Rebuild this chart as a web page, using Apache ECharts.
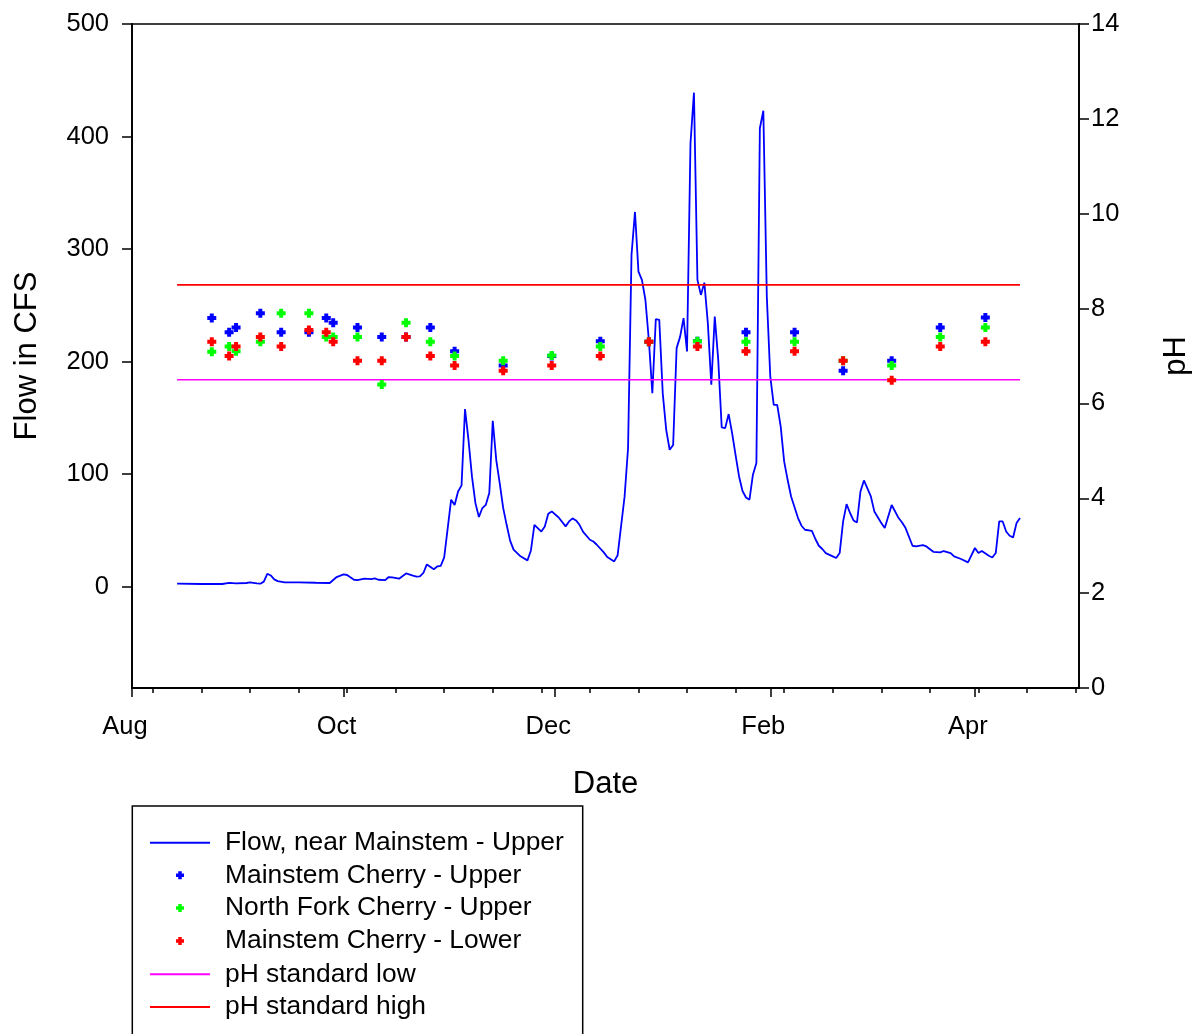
<!DOCTYPE html>
<html>
<head>
<meta charset="utf-8">
<script src="https://cdn.jsdelivr.net/npm/echarts@6/dist/echarts.min.js"></script>
<style>
html,body{margin:0;padding:0;background:#fff;}
#chart{width:1197px;height:1034px;}
</style>
</head>
<body>
<div id="chart"></div>
<script>
// ---------------- DATA ----------------
const xRange = ['2005-08-01', '2006-05-01'];
const xLabelDates = ['2005-08-01', '2005-10-01', '2005-12-01', '2006-02-01', '2006-04-01'];
const xLabels = ['Aug', 'Oct', 'Dec', 'Feb', 'Apr'];
const minorTickDates = ['2005-08-07','2005-08-21','2005-09-04','2005-09-18','2005-10-02','2005-10-16','2005-10-30',
  '2005-11-13','2005-11-27','2005-12-11','2005-12-25','2006-01-08','2006-01-22','2006-02-05','2006-02-19',
  '2006-03-05','2006-03-19','2006-04-02','2006-04-16','2006-04-30'];
const flowTicks = [0, 100, 200, 300, 400, 500];
const flowRange = [-90, 500];
const phRange = [0, 14];
const phInterval = 2;

const flowDates = [
  '2005-08-14','2005-08-21','2005-08-27','2005-08-29','2005-08-31','2005-09-03','2005-09-04','2005-09-06','2005-09-07','2005-09-08',
  '2005-09-09','2005-09-10','2005-09-11','2005-09-12','2005-09-14','2005-09-18','2005-09-23','2005-09-27','2005-09-29','2005-10-01',
  '2005-10-02','2005-10-04','2005-10-05','2005-10-07','2005-10-09','2005-10-10','2005-10-11','2005-10-13','2005-10-14','2005-10-15',
  '2005-10-17','2005-10-19','2005-10-21','2005-10-22','2005-10-23','2005-10-24','2005-10-25','2005-10-27','2005-10-28','2005-10-29',
  '2005-10-30','2005-11-01','2005-11-02','2005-11-03','2005-11-04','2005-11-05','2005-11-06','2005-11-07','2005-11-08','2005-11-09',
  '2005-11-10','2005-11-11','2005-11-12','2005-11-13','2005-11-14','2005-11-15','2005-11-16','2005-11-17','2005-11-18','2005-11-19',
  '2005-11-21','2005-11-23','2005-11-24','2005-11-25','2005-11-27','2005-11-28','2005-11-29','2005-11-30','2005-12-02','2005-12-04',
  '2005-12-05','2005-12-06','2005-12-07','2005-12-08','2005-12-09','2005-12-11','2005-12-12','2005-12-13','2005-12-15','2005-12-16',
  '2005-12-18','2005-12-19','2005-12-21','2005-12-22','2005-12-23','2005-12-24','2005-12-25','2005-12-26','2005-12-27','2005-12-28',
  '2005-12-29','2005-12-30','2005-12-31','2006-01-01','2006-01-02','2006-01-03','2006-01-04','2006-01-05','2006-01-06','2006-01-07',
  '2006-01-08','2006-01-09','2006-01-10','2006-01-11','2006-01-12','2006-01-13','2006-01-14','2006-01-15','2006-01-16','2006-01-17',
  '2006-01-18','2006-01-19','2006-01-20','2006-01-21','2006-01-22','2006-01-23','2006-01-24','2006-01-25','2006-01-26','2006-01-27',
  '2006-01-28','2006-01-29','2006-01-30','2006-01-31','2006-02-01','2006-02-02','2006-02-03','2006-02-04','2006-02-05','2006-02-06',
  '2006-02-07','2006-02-09','2006-02-10','2006-02-11','2006-02-13','2006-02-14','2006-02-15','2006-02-16','2006-02-17','2006-02-19',
  '2006-02-20','2006-02-21','2006-02-22','2006-02-23','2006-02-24','2006-02-25','2006-02-26','2006-02-27','2006-02-28','2006-03-02',
  '2006-03-03','2006-03-05','2006-03-06','2006-03-08','2006-03-10','2006-03-11','2006-03-12','2006-03-14','2006-03-15','2006-03-17',
  '2006-03-18','2006-03-20','2006-03-22','2006-03-23','2006-03-25','2006-03-26','2006-03-28','2006-03-30','2006-04-01','2006-04-02',
  '2006-04-03','2006-04-05','2006-04-06','2006-04-07','2006-04-08','2006-04-09','2006-04-10','2006-04-11','2006-04-12','2006-04-13',
  '2006-04-14'
];
const flowValues = [
  2.7, 2.4, 2.4, 3.5, 3.0, 3.3, 3.8, 2.9, 2.7, 4.5,
  11.5, 10, 6.5, 5, 3.8, 3.8, 3.5, 3.3, 8.6, 10.9,
  10.4, 6.2, 5.9, 7.1, 6.8, 7.4, 6.2, 5.9, 8.6, 8.3,
  7.1, 11.8, 9.8, 8.9, 9.1, 12.2, 19.8, 15.5, 18, 18.6,
  26, 77.3, 72.6, 84.6, 90, 157.8, 130.5, 98, 74.3, 61.9,
  69.9, 72.8, 83.2, 147.4, 112.8, 92, 70, 55, 41, 33,
  27, 23.4, 32.2, 55, 49, 53.6, 64.8, 66.9, 61.5, 53.6,
  58, 60.7, 58.9, 55, 49, 41.7, 40.2, 37.3, 30.5, 26.4,
  22.5, 28, 80, 123, 295, 333, 280, 272.6, 255, 219,
  172, 237.7, 237.1, 172, 139.4, 121.7, 126, 212, 222, 238.6,
  209, 394, 439, 272.6, 259.3, 270.2, 234.2, 179.4, 240, 201.6,
  141.5, 140.9, 153.4, 136.5, 117, 98, 85, 79.3, 77.3, 99.5,
  109.9, 407.4, 423, 258, 186.8, 161.6, 161.6, 142.4, 111.3, 95,
  80.2, 61, 54.2, 50.6, 49.7, 42.4, 36.4, 33.5, 29.9, 27,
  25.5, 29.9, 58, 73.4, 65.5, 58.9, 57.1, 84.6, 94.4, 80.2,
  66.9, 56.6, 52.1, 72.6, 61, 57.1, 52.1, 36.4, 35.8, 37,
  35.8, 31, 30.5, 31.7, 29.9, 26.9, 24.6, 21.6, 34.4, 29.9,
  31.7, 27.5, 26, 29.9, 58, 58, 49.1, 45.3, 43.8, 56.6,
  61
];

const sampleDates = ['2005-08-24','2005-08-29','2005-08-31','2005-09-07','2005-09-13','2005-09-21','2005-09-26','2005-09-28',
  '2005-10-05','2005-10-12','2005-10-19','2005-10-26','2005-11-02','2005-11-16','2005-11-30','2005-12-14','2005-12-28',
  '2006-01-11','2006-01-25','2006-02-08','2006-02-22','2006-03-08','2006-03-22','2006-04-04'];
const mainUpperPH  = [7.80, 7.50, 7.60, 7.90, 7.50, 7.50, 7.80, 7.70, 7.60, 7.40, 7.40, 7.60, 7.10, 6.80, 7.00, 7.31, 7.30, 7.31, 7.50, 7.50, 6.69, 6.90, 7.60, 7.81];
const northForkPH  = [7.09, 7.20, 7.10, 7.30, 7.90, 7.90, 7.40, 7.40, 7.40, 6.40, 7.70, 7.30, 7.00, 6.90, 7.01, 7.20, 7.30, 7.31, 7.30, 7.30, 6.90, 6.80, 7.40, 7.60];
const mainLowerPH  = [7.30, 7.00, 7.20, 7.40, 7.20, 7.55, 7.50, 7.30, 6.90, 6.90, 7.40, 7.00, 6.80, 6.69, 6.80, 7.00, 7.30, 7.20, 7.10, 7.10, 6.90, 6.49, 7.20, 7.30];

const stdLineDates = ['2005-08-14', '2006-04-14'];
const phStdLow = 6.5;
const phStdHigh = 8.5;

const names = {
  flow: 'Flow, near Mainstem - Upper',
  mu: 'Mainstem Cherry - Upper',
  nf: 'North Fork Cherry - Upper',
  ml: 'Mainstem Cherry - Lower',
  low: 'pH standard low',
  high: 'pH standard high'
};

// ---------------- CHART ----------------
const FONT = "'Liberation Sans', Arial, Helvetica, sans-serif";
const ts = s => { const p = s.split('-').map(Number); return Date.UTC(p[0], p[1] - 1, p[2]); };
// x axis is expressed in days since the first day of the axis range
const day = s => Math.round((ts(s) - ts(xRange[0])) / 86400000);
const xLabelDays = xLabelDates.map(day);
const minorDays = minorTickDates.map(day);
const PLUS = 'path://M2.8,0H7.2V2.8H10V7.2H7.2V10H2.8V7.2H0V2.8H2.8Z';
const axisColor = '#000';

function xLabelFmt(v) {
  const i = xLabelDays.indexOf(Math.round(v));
  return i >= 0 ? xLabels[i] : '';
}

const scatterSeries = (name, arr, color) => ({
  type: 'scatter', name, xAxisIndex: 0, yAxisIndex: 1,
  symbol: PLUS, symbolSize: 9,
  itemStyle: { color, opacity: 1 },
  data: sampleDates.map((d, i) => [day(d), arr[i]]).filter(p => p[1] != null),
  z: 5
});

const chart = echarts.init(document.getElementById('chart'), null, { renderer: 'canvas' });
const legendText = (padLeft) => ({ fontSize: 26.4, color: '#000', fontFamily: FONT, lineHeight: 26, padding: [0, 0, 0, padLeft] });

chart.setOption({
  animation: false,
  backgroundColor: '#fff',
  textStyle: { fontFamily: FONT },
  grid: { left: 132, right: 118, top: 24, bottom: 346, show: true, borderColor: '#000', borderWidth: 1.5, backgroundColor: 'transparent', outerBoundsMode: 'none', containLabel: false },
  xAxis: [
    {
      type: 'value', min: day(xRange[0]), max: day(xRange[1]), position: 'bottom',
      name: 'Date', nameLocation: 'middle', nameGap: 81, nameMoveOverlap: false,
      nameTextStyle: { fontSize: 31, color: '#000', fontFamily: FONT },
      axisLine: { show: true, onZero: false, lineStyle: { color: axisColor, width: 1.8 } },
      axisTick: { show: true, length: 9, customValues: xLabelDays, lineStyle: { color: axisColor, width: 1.5 } },
      axisLabel: { customValues: xLabelDays, formatter: xLabelFmt, color: '#000', fontSize: 25.5, fontFamily: FONT, margin: 26, padding: [0, 14, 0, 0], hideOverlap: false },
      splitLine: { show: false }, minorTick: { show: false }
    },
    {
      type: 'value', min: day(xRange[0]), max: day(xRange[1]), position: 'bottom',
      axisLine: { show: false, onZero: false },
      axisTick: { show: true, length: 5, customValues: minorDays, lineStyle: { color: axisColor, width: 1.5 } },
      axisLabel: { show: false },
      splitLine: { show: false }
    }
  ],
  yAxis: [
    {
      type: 'value', min: flowRange[0], max: flowRange[1], position: 'left',
      name: 'Flow in CFS', nameLocation: 'middle', nameGap: 89, nameMoveOverlap: false,
      nameTextStyle: { fontSize: 31, color: '#000', fontFamily: FONT },
      axisLine: { show: true, onZero: false, lineStyle: { color: axisColor, width: 1.8 } },
      axisTick: { show: true, length: 10, customValues: flowTicks, lineStyle: { color: axisColor, width: 1.5 } },
      axisLabel: { customValues: flowTicks, color: '#000', fontSize: 25.5, fontFamily: FONT, margin: 23, padding: [6, 0, 0, 0] },
      splitLine: { show: false }
    },
    {
      type: 'value', min: phRange[0], max: phRange[1], interval: phInterval, position: 'right',
      name: 'pH', nameLocation: 'middle', nameGap: 82, nameMoveOverlap: false,
      nameTextStyle: { fontSize: 31, color: '#000', fontFamily: FONT },
      axisLine: { show: true, onZero: false, lineStyle: { color: axisColor, width: 1.8 } },
      axisTick: { show: true, length: 10, lineStyle: { color: axisColor, width: 1.5 } },
      axisLabel: { color: '#000', fontSize: 25.5, fontFamily: FONT, margin: 12, padding: [6, 0, 0, 0] },
      splitLine: { show: false }
    }
  ],
  legend: [
    {
      data: [names.flow], orient: 'vertical', left: 150, top: 829.7, padding: 0,
      itemWidth: 60, itemHeight: 2, icon: 'rect', itemGap: 6.8, selectedMode: false,
      itemStyle: { borderWidth: 0 }, textStyle: legendText(10)
    },
    {
      data: [names.mu, names.nf, names.ml], orient: 'vertical', left: 176, top: 862.3, padding: 0,
      itemWidth: 8, itemHeight: 8, icon: PLUS, itemGap: 6.8, selectedMode: false,
      itemStyle: { borderWidth: 0 }, textStyle: legendText(36)
    },
    {
      data: [names.low, names.high], orient: 'vertical', left: 150, top: 961.3, padding: 0,
      itemWidth: 60, itemHeight: 2, icon: 'rect', itemGap: 6.8, selectedMode: false,
      itemStyle: { borderWidth: 0 }, textStyle: legendText(10)
    }
  ],
  graphic: [
    {
      type: 'rect', silent: true,
      shape: { x: 132.3, y: 806, width: 450.4, height: 260 },
      style: { fill: 'none', stroke: '#000', lineWidth: 1.5 }
    }
  ],
  series: [
    {
      type: 'line', name: names.flow, xAxisIndex: 0, yAxisIndex: 0,
      data: flowDates.map((d, i) => [day(d), flowValues[i]]),
      symbol: 'none', showSymbol: false,
      lineStyle: { color: '#0000ff', width: 1.8 }, itemStyle: { color: '#0000ff' }, z: 2
    },
    {
      type: 'line', name: names.low, xAxisIndex: 0, yAxisIndex: 1,
      data: stdLineDates.map(d => [day(d), phStdLow]),
      symbol: 'none', showSymbol: false,
      lineStyle: { color: '#ff00ff', width: 1.6 }, itemStyle: { color: '#ff00ff' }, z: 3
    },
    {
      type: 'line', name: names.high, xAxisIndex: 0, yAxisIndex: 1,
      data: stdLineDates.map(d => [day(d), phStdHigh]),
      symbol: 'none', showSymbol: false,
      lineStyle: { color: '#ff0000', width: 1.6 }, itemStyle: { color: '#ff0000' }, z: 3
    },
    scatterSeries(names.mu, mainUpperPH, '#0000ff'),
    scatterSeries(names.nf, northForkPH, '#00ff00'),
    scatterSeries(names.ml, mainLowerPH, '#ff0000')
  ]
});
</script>
</body>
</html>
